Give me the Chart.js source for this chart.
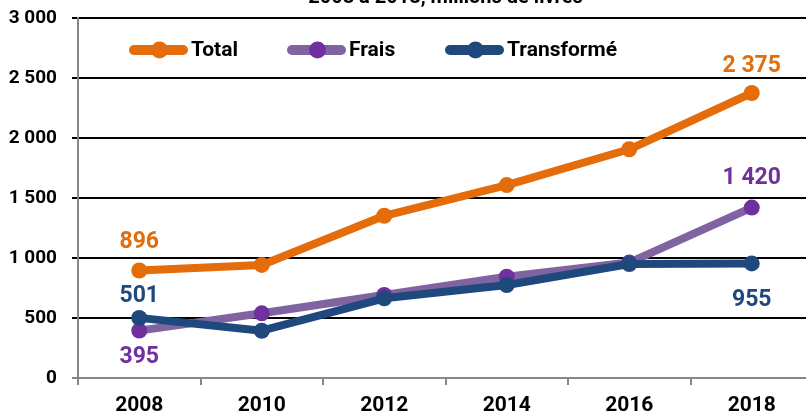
<!DOCTYPE html>
<html>
<head>
<meta charset="utf-8">
<script src="https://cdn.jsdelivr.net/npm/chart.js@4"></script>
<style>
  html, body { margin: 0; padding: 0; background: #fff; overflow: hidden; }
  body { width: 806px; height: 417px; position: relative; }
  #wrap { position: absolute; left: 0; top: -22px; width: 873px; height: 442px; }
</style>
</head>
<body>
<div id="wrap"><canvas id="chart"></canvas></div>
<script>
// Data
const years = ['2008', '2010', '2012', '2014', '2016', '2018'];
const total = [896, 942, 1352, 1608, 1906, 2375];
const frais = [395, 539, 692, 844, 962, 1420];
const transforme = [501, 394, 664, 775, 950, 955];
const seriesNames = ['Total', 'Frais', 'Transformé'];
const titleText = '2008 à 2018, millions de livres';

const FONT = 'Roboto, "Liberation Sans", sans-serif';
const GREY = '#868686';

function fmt(v) {
  return String(v).replace(/\B(?=(\d{3})+(?!\d))/g, ' ');
}

// which points get a value label, and how far above/below the point
const valueLabels = [
  [{ index: 0, dy: -28 }, { index: 5, dy: -27 }],
  [{ index: 0, dy: 27 }, { index: 5, dy: -29 }],
  [{ index: 0, dy: -22 }, { index: 5, dy: 37 }]
];
const labelColors = ['#E46C0A', '#7030A0', '#1F497D'];

const pointValues = {
  id: 'pointValues',
  afterDatasetsDraw(chart) {
    const ctx = chart.ctx;
    ctx.save();
    ctx.font = 'bold 23px ' + FONT;
    ctx.textAlign = 'center';
    ctx.textBaseline = 'middle';
    chart.data.datasets.forEach((ds, i) => {
      const meta = chart.getDatasetMeta(i);
      ctx.fillStyle = labelColors[i];
      valueLabels[i].forEach(l => {
        const pt = meta.data[l.index];
        ctx.fillText(fmt(ds.data[l.index]), pt.x, pt.y + l.dy);
      });
    });
    ctx.restore();
  }
};

// legend drawn inside the plot, like the original
const insideLegend = {
  id: 'insideLegend',
  afterDraw(chart) {
    const ctx = chart.ctx;
    const area = chart.chartArea;
    ctx.save();
    ctx.font = 'bold 21px ' + FONT;
    ctx.textAlign = 'left';
    ctx.textBaseline = 'middle';
    chart.data.datasets.forEach((ds, i) => {
      const x0 = area.left + 52 + i * 158;
      const y = area.top + 32;
      ctx.strokeStyle = ds.borderColor;
      ctx.lineWidth = 10;
      ctx.lineCap = 'round';
      ctx.beginPath();
      ctx.moveTo(x0 + 4, y);
      ctx.lineTo(x0 + 53, y);
      ctx.stroke();
      ctx.fillStyle = ds.pointBackgroundColor;
      ctx.beginPath();
      ctx.arc(x0 + 29.5, y, 8.5, 0, Math.PI * 2);
      ctx.fill();
      ctx.fillStyle = '#000';
      ctx.fillText(ds.label, x0 + 61, y + 1);
    });
    ctx.restore();
  }
};

function series(label, data, line, point, order) {
  return {
    label: label,
    data: data,
    borderColor: line,
    backgroundColor: point,
    pointBackgroundColor: point,
    pointBorderWidth: 0,
    pointRadius: 8,
    borderWidth: 8,
    borderJoinStyle: 'round',
    tension: 0,
    order: order
  };
}

new Chart(document.getElementById('chart'), {
  type: 'line',
  data: {
    labels: years,
    datasets: [
      series(seriesNames[0], total, '#E46C0A', '#E46C0A', 2),
      series(seriesNames[1], frais, '#8064A2', '#7030A0', 1),
      series(seriesNames[2], transforme, '#1F497D', '#1F497D', 0)
    ]
  },
  options: {
    responsive: true,
    maintainAspectRatio: false,
    animation: false,
    layout: { padding: { left: 0, right: 60, top: 0, bottom: 0 } },
    plugins: {
      legend: { display: false },
      tooltip: { enabled: false },
      title: {
        display: true,
        fullSize: false,
        text: titleText,
        color: '#000',
        font: { family: FONT, size: 20, weight: 'bold' },
        padding: { top: 8, bottom: 8 }
      }
    },
    scales: {
      x: {
        offset: true,
        afterFit(scale) { scale.height = 42; },
        grid: { offset: true, drawOnChartArea: false, tickLength: 7, color: GREY, lineWidth: 2 },
        border: { color: GREY, width: 2 },
        ticks: { color: '#000', font: { family: FONT, size: 21, weight: 'bold' }, padding: 8 }
      },
      y: {
        min: 0,
        max: 3000,
        afterFit(scale) { scale.width = 78; },
        grid: {
          color: c => c.tick.value === 0 ? 'rgba(0,0,0,0)' : '#000',
          tickColor: c => c.tick.value === 0 ? GREY : '#000',
          lineWidth: 2,
          tickLength: 6
        },
        border: { color: GREY, width: 2 },
        ticks: {
          stepSize: 500,
          color: '#000',
          font: { family: FONT, size: 19, weight: 'bold' },
          padding: 15,
          callback: v => fmt(v)
        }
      }
    }
  },
  plugins: [pointValues, insideLegend]
});
</script>
</body>
</html>
